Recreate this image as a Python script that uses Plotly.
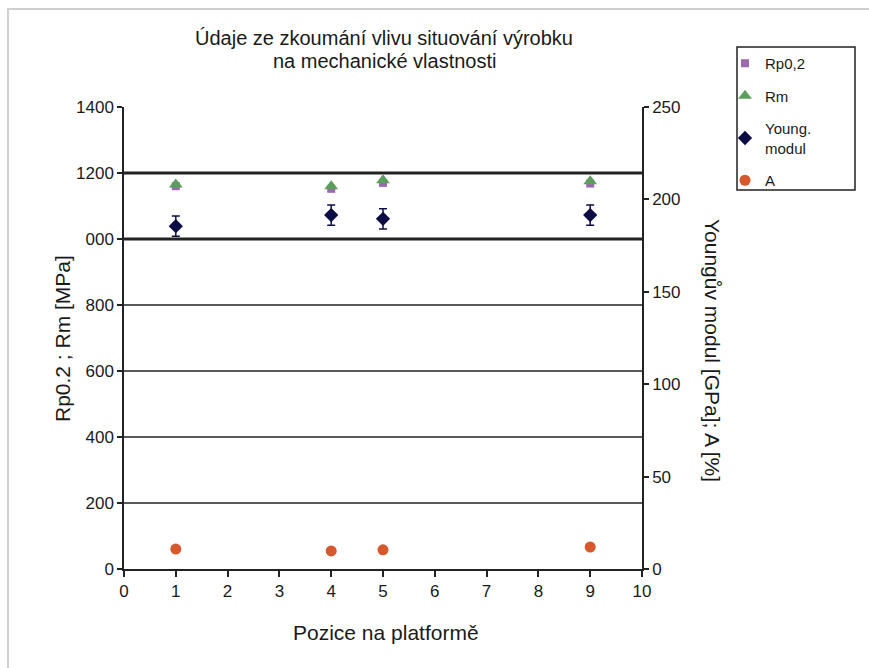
import plotly.graph_objects as go

positions = [1, 4, 5, 9]
rp02 = [1160, 1152, 1170, 1168]
rm = [1165, 1160, 1178, 1175]
young = [185.5, 191.5, 189.5, 191.5]
young_err = [5.5, 5.5, 5.5, 5.5]
a_vals = [10.8, 9.8, 10.4, 11.9]

left_ticks = [0, 200, 400, 600, 800, 1000, 1200, 1400]
left_ticktext = ["0", "200", "400", "600", "800", "000", "1200", "1400"]
right_ticks = [0, 50, 100, 150, 200, 250]
x_ticks = list(range(0, 11))

title_lines = ["Údaje ze zkoumání vlivu situování výrobku", "na mechanické vlastnosti"]

FONT = "Liberation Sans, Arial, sans-serif"
TXT = "#1a1a1a"

# plot-area pixel geometry
L, R, T, B = 124, 642, 107, 569
W, H = R - L, B - T


def px(x):
    return (x - L) / W


def py(y):
    return (B - y) / H


fig = go.Figure()
fig.add_trace(go.Scatter(x=positions, y=rp02, mode="markers", name="Rp0,2",
                         marker=dict(symbol="square", size=8, color="#9b6aae"),
                         legendgroup="a"))
fig.add_trace(go.Scatter(x=positions, y=rm, mode="markers", name="Rm",
                         marker=dict(symbol="triangle-up", size=12, color="#5c9e5c"),
                         legendgroup="b"))
fig.add_trace(go.Scatter(x=positions, y=young, mode="markers", name="Young.<br>modul",
                         yaxis="y2",
                         marker=dict(symbol="diamond", size=11, color="#0d0d45"),
                         error_y=dict(type="data", array=young_err, visible=True,
                                      color="#0d0d45", thickness=1.5, width=4),
                         legendgroup="c"))
fig.add_trace(go.Scatter(x=positions, y=a_vals, mode="markers", name="A",
                         yaxis="y2",
                         marker=dict(symbol="circle", size=11, color="#d6582c"),
                         legendgroup="d"))

shapes = []
for v in left_ticks[1:-1]:
    w = 3 if v in (1000, 1200) else 1.6
    shapes.append(dict(type="line", xref="paper", yref="y", x0=0, x1=1, y0=v, y1=v,
                       line=dict(color="#222222", width=w), layer="below"))
# outer frame
shapes.append(dict(type="rect", xref="paper", yref="paper",
                   x0=px(8), x1=px(900), y0=py(700), y1=py(9),
                   line=dict(color="#cfcfcf", width=2), layer="below"))
# legend box
shapes.append(dict(type="rect", xref="paper", yref="paper",
                   x0=px(737), x1=px(855), y0=py(190), y1=py(47),
                   line=dict(color="#222222", width=1.5), fillcolor="rgba(0,0,0,0)",
                   layer="above"))

annotations = [
    dict(text=title_lines[0], xref="paper", yref="paper", x=px(384), y=py(38),
         xanchor="center", yanchor="middle", showarrow=False,
         font=dict(size=20, color=TXT)),
    dict(text=title_lines[1], xref="paper", yref="paper", x=px(384), y=py(61),
         xanchor="center", yanchor="middle", showarrow=False,
         font=dict(size=20, color=TXT)),
    dict(text="Pozice na platformě", xref="paper", yref="paper",
         x=px(386), y=py(632), xanchor="center", yanchor="middle",
         showarrow=False, font=dict(size=21, color=TXT)),
    dict(text="Rp0.2 ; Rm [MPa]", xref="paper", yref="paper",
         x=px(62), y=py(339), xanchor="center", yanchor="middle",
         textangle=-90, showarrow=False, font=dict(size=21, color=TXT)),
    dict(text="Youngův modul [GPa]; A [%]", xref="paper", yref="paper",
         x=px(713), y=py(350), xanchor="center", yanchor="middle",
         textangle=90, showarrow=False, font=dict(size=21, color=TXT)),
]

fig.update_layout(
    width=869, height=668,
    margin=dict(l=L, r=869 - R, t=T, b=668 - B),
    paper_bgcolor="white", plot_bgcolor="white",
    font=dict(family=FONT, size=17, color=TXT),
    xaxis=dict(range=[0, 10], tickvals=x_ticks, showgrid=False, zeroline=False,
               showline=True, linecolor="#222222", linewidth=1.5,
               ticks="outside", ticklen=6, tickwidth=1.5, tickcolor="#222222",
               tickfont=dict(size=17, color=TXT)),
    yaxis=dict(range=[0, 1400], tickvals=left_ticks, ticktext=left_ticktext,
               showgrid=False, zeroline=False,
               showline=True, linecolor="#222222", linewidth=1.5,
               ticks="outside", ticklen=5, tickwidth=1.5, tickcolor="#222222",
               tickfont=dict(size=17, color=TXT)),
    yaxis2=dict(range=[0, 250], tickvals=right_ticks, overlaying="y", side="right",
                showgrid=False, zeroline=False,
                showline=True, linecolor="#222222", linewidth=1.5,
                ticks="outside", ticklen=5, tickwidth=1.5, tickcolor="#222222",
                tickfont=dict(size=17, color=TXT)),
    legend=dict(x=px(725), y=py(47), xanchor="left", yanchor="top",
                borderwidth=0, bgcolor="rgba(0,0,0,0)",
                font=dict(size=15, color=TXT), tracegroupgap=10,
                traceorder="grouped", itemwidth=30),
    showlegend=True,
    shapes=shapes,
    annotations=annotations,
)

fig.write_html("out.html")
